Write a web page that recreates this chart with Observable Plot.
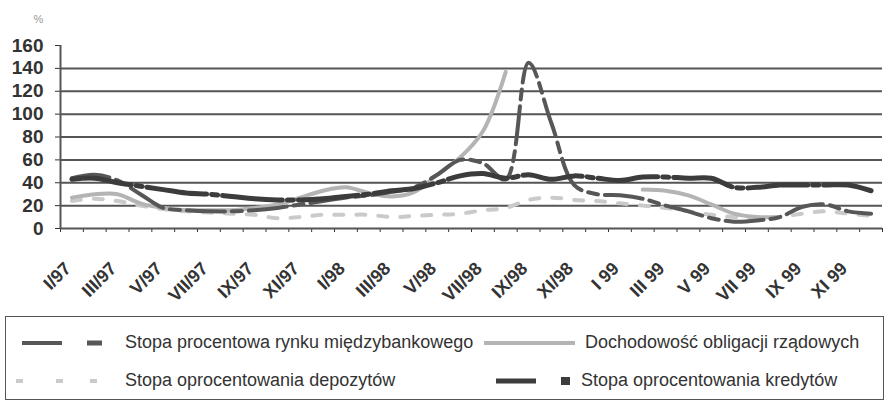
<!DOCTYPE html>
<html>
<head>
<meta charset="utf-8">
<script src="https://cdn.jsdelivr.net/npm/d3@7"></script>
<script src="https://cdn.jsdelivr.net/npm/@observablehq/plot@0.6"></script>
<style>
  html, body { margin: 0; padding: 0; background: #fff; }
  #wrap { position: relative; width: 889px; height: 404px; font-family: "Liberation Sans", Arial, sans-serif; }
  #legend { position: absolute; left: 5px; top: 316px; width: 879px; height: 84px; border: 1.5px solid #555; box-sizing: border-box; }
  .item { position: absolute; display: flex; align-items: center; font-size: 18px; color: #333; white-space: nowrap; }
  .item svg { margin-right: 10px; }
</style>
</head>
<body>
<div id="wrap"><div id="chart"></div><div id="legend"></div></div>
<script>
// Month categories I/97 .. XII/99 (36 months); labels every second month
const tickLabels = ["I/97","III/97","V/97","VII/97","IX/97","XI/97","I/98","III/98","V/98","VII/98","IX/98","XI/98","I 99","III 99","V 99","VII 99","IX 99","XI 99"];
const nMonths = 36;
const yTicks = [0, 20, 40, 60, 80, 100, 120, 140, 160];
const gridValues = [0, 20, 40, 60, 80, 100, 120, 140];

// Series values (%), one per month
const interbank = [44, 47, 42, 30, 18, 16, 15, 15, 16, 18, 21, 24, 27, 29, 32, 36, 47, 60, 57, 43, 145, 92, 38, 30, 29, 26, 20, 15, 9, 6, 7, 10, 19, 21, 15, 13];
const bonds     = [27, 30, 30, 22, 18, 16, 16, 16, 18, 21, 27, 33, 36, 31, 28, 32, 47, 62, 85, 137, null, null, null, null, null, 34, 33, 29, 21, 13, 10, 10, null, null, null, null];
const deposits  = [24, 26, 24, 20, 17, 15, 14, 13, 12, 9, 10, 12, 12, 12, 10, 11, 12, 13, 16, 18, 25, 27, 25, 24, 22, 20, 18, 15, 12, 10, 9, 10, 13, 15, 13, 11];
const credits   = [43, 44, 40, 37, 34, 31, 30, 28, 26, 25, 25, 26, 28, 30, 33, 35, 40, 46, 48, 44, 47, 43, 46, 44, 42, 45, 45, 44, 44, 36, 36, 38, 38, 38, 38, 33];

const seriesNames = [
  "Stopa procentowa rynku międzybankowego",
  "Dochodowość obligacji rządowych",
  "Stopa oprocentowania depozytów",
  "Stopa oprocentowania kredytów"
];

const toRows = (vals) => vals.map((v, i) => ({x: i + 0.5, y: v == null ? NaN : v}));
const labelRows = tickLabels.map((t, k) => ({x: 2 * k + 0.5, t}));

const styles = {
  interbank: {stroke: "#575757", strokeWidth: 4, dash: "38,7,10,7"},
  bonds: {stroke: "#b4b4b4", strokeWidth: 4, dash: null},
  deposits: {stroke: "#cacaca", strokeWidth: 4, dash: "9,13"},
  credits: {stroke: "#3c3c3c", strokeWidth: 5, dash: "60,5,6,5"}
};

const lineOpts = (s) => ({x: "x", y: "y", stroke: s.stroke, strokeWidth: s.strokeWidth, strokeDasharray: s.dash, curve: "catmull-rom", strokeLinejoin: "round"});

const chart = Plot.plot({
  width: 889,
  height: 312,
  marginLeft: 60,
  marginRight: 7,
  marginTop: 45,
  marginBottom: 84,
  style: {fontFamily: "'Liberation Sans', Arial, sans-serif", fontSize: "19px", fontWeight: "bold", color: "#333", background: "#fff"},
  x: {domain: [0, nMonths], ticks: d3.range(nMonths + 1), tickSize: 4, tickFormat: () => "", label: null},
  y: {domain: [0, 160], ticks: yTicks, tickSize: 5, tickPadding: 12, label: null},
  marks: [
    Plot.ruleY(gridValues, {stroke: "#555", strokeWidth: 2}),
    Plot.ruleX([0], {y1: 0, y2: 160, stroke: "#555", strokeWidth: 2}),
    Plot.line(toRows(deposits), lineOpts(styles.deposits)),
    Plot.line(toRows(bonds), lineOpts(styles.bonds)),
    Plot.line(toRows(interbank), lineOpts(styles.interbank)),
    Plot.line(toRows(credits), lineOpts(styles.credits)),
    Plot.text(labelRows, {x: "x", text: "t", frameAnchor: "bottom", rotate: -45, textAnchor: "end", lineAnchor: "middle", dx: -4, dy: 37, fontSize: 18, fontWeight: "bold", fill: "#333"}),
    Plot.text(["%"], {frameAnchor: "top-left", dx: -27, dy: -30, text: d => d, fontSize: 11, fontWeight: "normal", fill: "#999"})
  ]
});
document.getElementById("chart").appendChild(chart);

// Legend
const legend = document.getElementById("legend");
const sample = (s, kind) => {
  let inner = "", w;
  if (kind === "interbank") {
    w = 90;
    inner = `<line x1="12" y1="6" x2="52" y2="6" stroke="${s.stroke}" stroke-width="4"/>` +
            `<line x1="77" y1="6" x2="92" y2="6" stroke="${s.stroke}" stroke-width="5"/>`;
    w = 105;
  } else if (kind === "credits") {
    inner = `<line x1="0" y1="6" x2="40" y2="6" stroke="${s.stroke}" stroke-width="5"/>` +
            `<rect x="65" y="2" width="9" height="8" fill="${s.stroke}"/>`;
    w = 75;
  } else if (kind === "deposits") {
    inner = [6, 46, 80].map(x => `<line x1="${x}" y1="6" x2="${x + 7}" y2="6" stroke="${s.stroke}" stroke-width="4"/>`).join("");
    w = 105;
  } else {
    inner = `<line x1="0" y1="6" x2="91" y2="6" stroke="${s.stroke}" stroke-width="4"/>`;
    w = 91;
  }
  return `<svg width="${w}" height="12">${inner}</svg>`;
};
const items = [
  {key: "interbank", name: seriesNames[0], left: 4, top: 15},
  {key: "bonds", name: seriesNames[1], left: 478, top: 15},
  {key: "deposits", name: seriesNames[2], left: 4, top: 53},
  {key: "credits", name: seriesNames[3], left: 490, top: 53}
];
for (const it of items) {
  const d = document.createElement("div");
  d.className = "item";
  d.style.left = it.left + "px";
  d.style.top = it.top + "px";
  d.innerHTML = sample(styles[it.key], it.key) + `<span>${it.name}</span>`;
  legend.appendChild(d);
}
</script>
</body>
</html>
